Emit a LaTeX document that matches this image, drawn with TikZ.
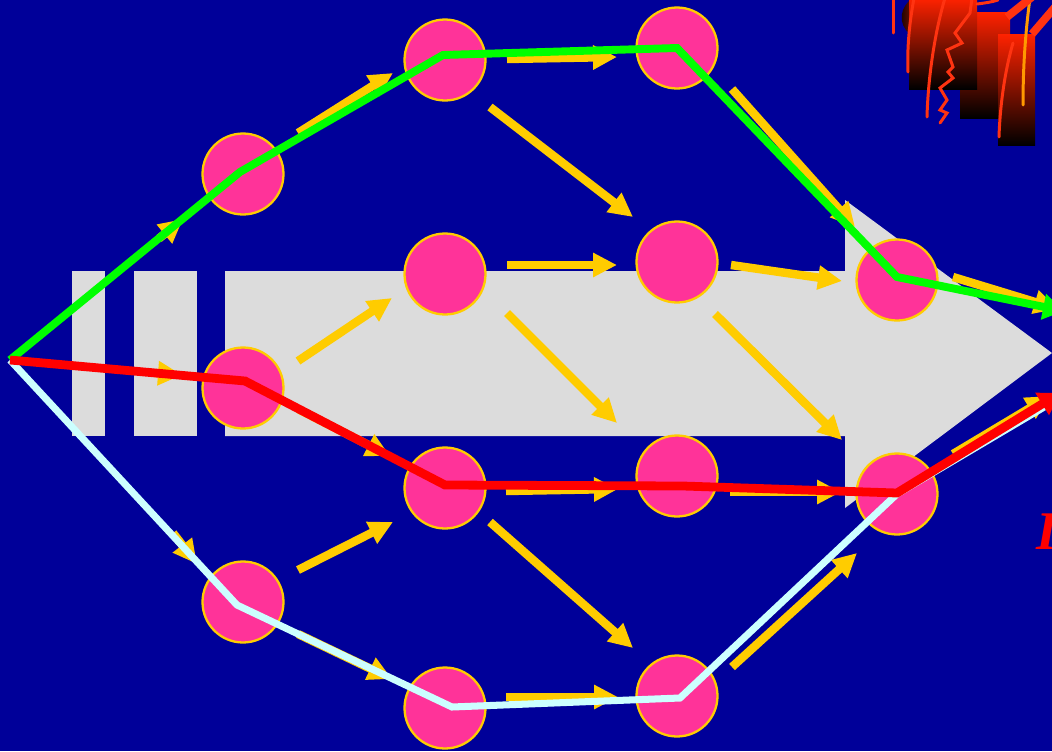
\documentclass[tikz,border=0pt]{standalone}
\usepackage{fontspec}
\setmainfont{Liberation Serif}
\usetikzlibrary{arrows.meta,calc}
\definecolor{bgblue}{HTML}{000099}
\definecolor{greyc}{HTML}{DCDCDC}
\definecolor{nodepink}{HTML}{FF3399}
\definecolor{nodeyellow}{HTML}{FFCC00}
\definecolor{pathgreen}{HTML}{00FF00}
\definecolor{pathred}{HTML}{FF0000}
\definecolor{pathcyan}{HTML}{CCFFFF}
\definecolor{clipred}{HTML}{FF2200}
\definecolor{wirered}{HTML}{FF3311}
\definecolor{wireorange}{HTML}{FF9900}
\begin{document}
\begin{tikzpicture}[x=0.02cm,y=-0.02cm,
  stage/.style={circle,fill=nodepink,draw=nodeyellow,line width=1.3pt,minimum size=1.62cm,inner sep=0pt},
  yarr/.style={draw=nodeyellow,line width=4.8pt,-{Triangle[length=0.48cm,width=0.46cm]}},
  greenpath/.style={draw=pathgreen,line width=4.5pt,-{Triangle[length=0.42cm,width=0.5cm]}},
  redpath/.style={draw=pathred,line width=5pt,-{Triangle[length=0.42cm,width=0.5cm]}},
  cyanpath/.style={draw=pathcyan,line width=4pt},
  wire/.style={draw=wirered,line width=1.7pt,line cap=round},
  block/.style={top color=clipred,bottom color=black}]
\useasboundingbox (0,0) rectangle (1052,751);
\fill[bgblue] (0,0) rectangle (1052,751);
\clip (0,0) rectangle (1052,751);
% big grey arrow
\fill[greyc] (72,271) rectangle (105,436);
\fill[greyc] (134,271) rectangle (197,436);
\fill[greyc] (225,271) -- (845,271) -- (845,200) -- (1052,353) -- (845,508) -- (845,436) -- (225,436) -- cycle;
% clip art top right
\shade[left color=black,right color=clipred!50!black] (913,-2) .. controls (900,6) and (897,24) .. (910,34) -- (914,34) -- (914,-2) -- cycle;
\shade[block] (960,12) rectangle (1010,118);
\shade[block] (909,-2) rectangle (977,89);
\shade[block] (998,34) rectangle (1035,145);
\draw[wire] (893,-2) -- (893,33);
\draw[wire] (914,-2) .. controls (909,25) and (907,50) .. (908,72);
\draw[wire] (945,-2) .. controls (934,35) and (928,80) .. (927,117);
\draw[wire] (972,-2) -- (970,13) -- (955,33) -- (962,43) -- (947,50) -- (953,67) -- (948,72) -- (953,78) -- (940,88) -- (947,100) -- (940,110) -- (947,113) -- (940,123);
\draw[wire] (977,4) .. controls (985,3) and (992,2) .. (998,0);
\draw[wire] (1013,43) .. controls (1005,70) and (1000,105) .. (999,137);
\draw[wire,draw=wireorange] (1030,-2) .. controls (1025,35) and (1023,70) .. (1023,105);
\draw[draw=wirered,line width=4.5pt] (1007,17) -- (1032,-3);
\draw[draw=wirered,line width=4.5pt] (1032,34) -- (1056,6);
% red letter
\node[anchor=base west,inner sep=0pt,text=pathred,font=\fontsize{31}{32}\selectfont\bfseries\itshape] (letter) at (1036,549) {I};
% start point
\coordinate (S) at (10,360);
% stages
\node[stage] (A1) at (243,174) {};
\node[stage] (A2) at (243,388) {};
\node[stage] (A3) at (243,602) {};
\node[stage] (B1) at (445,60) {};
\node[stage] (B2) at (445,274) {};
\node[stage] (B3) at (445,488) {};
\node[stage] (B4) at (445,708) {};
\node[stage] (C1) at (677,48) {};
\node[stage] (C2) at (677,262) {};
\node[stage] (C3) at (677,476) {};
\node[stage] (C4) at (677,696) {};
\node[stage] (D1) at (897,280) {};
\node[stage] (D2) at (897,494) {};
\coordinate (gend) at (1064,311);
\coordinate (rend) at (1060,393);
\coordinate (cend) at (1056,400);
\coordinate (yend1) at (1058,309);
\coordinate (yend2) at (1050,396);
% yellow arrows (those under the coloured paths show only their heads)
\draw[yarr] ([shift={(149,-121.5)}]S) -- ([shift={(-60,45)}]A1.center);
\draw[yarr] ([shift={(145,13)}]S) -- ([shift={(-61,-13)}]A2.center);
\draw[yarr] ([shift={(163,173)}]S) -- ([shift={(-46,-38)}]A3.center);
\draw[yarr] ([shift={(55,-41)}]A1.center) -- ([shift={(-52,13)}]B1.center);
\draw[yarr] ([shift={(62,-1)}]B1.center) -- ([shift={(-60,9)}]C1.center);
\draw[yarr] ([shift={(45,47)}]B1.center) -- ([shift={(-44,-45)}]C2.center);
\draw[yarr] ([shift={(55,41)}]C1.center) -- ([shift={(-42,-53)}]D1.center);
\draw[yarr] ([shift={(55,-27)}]A2.center) -- ([shift={(-53,24)}]B2.center);
\draw[yarr] ([shift={(62,-9)}]B2.center) -- ([shift={(-60,3)}]C2.center);
\draw[yarr] ([shift={(62,39)}]B2.center) -- ([shift={(-60,-53)}]C3.center);
\draw[yarr] ([shift={(54,3)}]C2.center) -- ([shift={(-55,1)}]D1.center);
\draw[yarr] ([shift={(38,52)}]C2.center) -- ([shift={(-55,-54)}]D2.center);
\draw[yarr] ([shift={(55,21)}]A2.center) -- ([shift={(-55,-32)}]B3.center);
\draw[yarr] ([shift={(55,-32)}]A3.center) -- ([shift={(-52,34)}]B3.center);
\draw[yarr] ([shift={(55,32)}]A3.center) -- ([shift={(-53,-29)}]B4.center);
\draw[yarr] ([shift={(61,3)}]B3.center) -- ([shift={(-59,13)}]C3.center);
\draw[yarr] ([shift={(45,34)}]B3.center) -- ([shift={(-44,-48)}]C4.center);
\draw[yarr] ([shift={(53,16)}]C3.center) -- ([shift={(-56,-2)}]D2.center);
\draw[yarr] ([shift={(61,-11)}]B4.center) -- ([shift={(-59,1)}]C4.center);
\draw[yarr] ([shift={(55,-29)}]C4.center) -- ([shift={(-40,59)}]D2.center);
\draw[yarr] ([shift={(56,-3)}]D1.center) -- (yend1);
\draw[yarr] ([shift={(56,-40)}]D2.center) -- (yend2);
% coloured paths
\draw[cyanpath] (S) -- ([shift={(-6,3)}]A3.center) -- ([shift={(7,-1)}]B4.center) -- ([shift={(3,2)}]C4.center) -- (D2.center) -- (cend);
\draw[greenpath] (S) -- ([shift={(-3,-2)}]A1.center) -- ([shift={(-2,-5)}]B1.center) -- (C1.center) -- ([shift={(0,-3)}]D1.center) -- (gend);
\draw[redpath] (S) -- ([shift={(2,-7)}]A2.center) -- ([shift={(0,-3)}]B3.center) -- ([shift={(6,10)}]C3.center) -- ([shift={(0,-1)}]D2.center) -- (rend);
\end{tikzpicture}
\end{document}
